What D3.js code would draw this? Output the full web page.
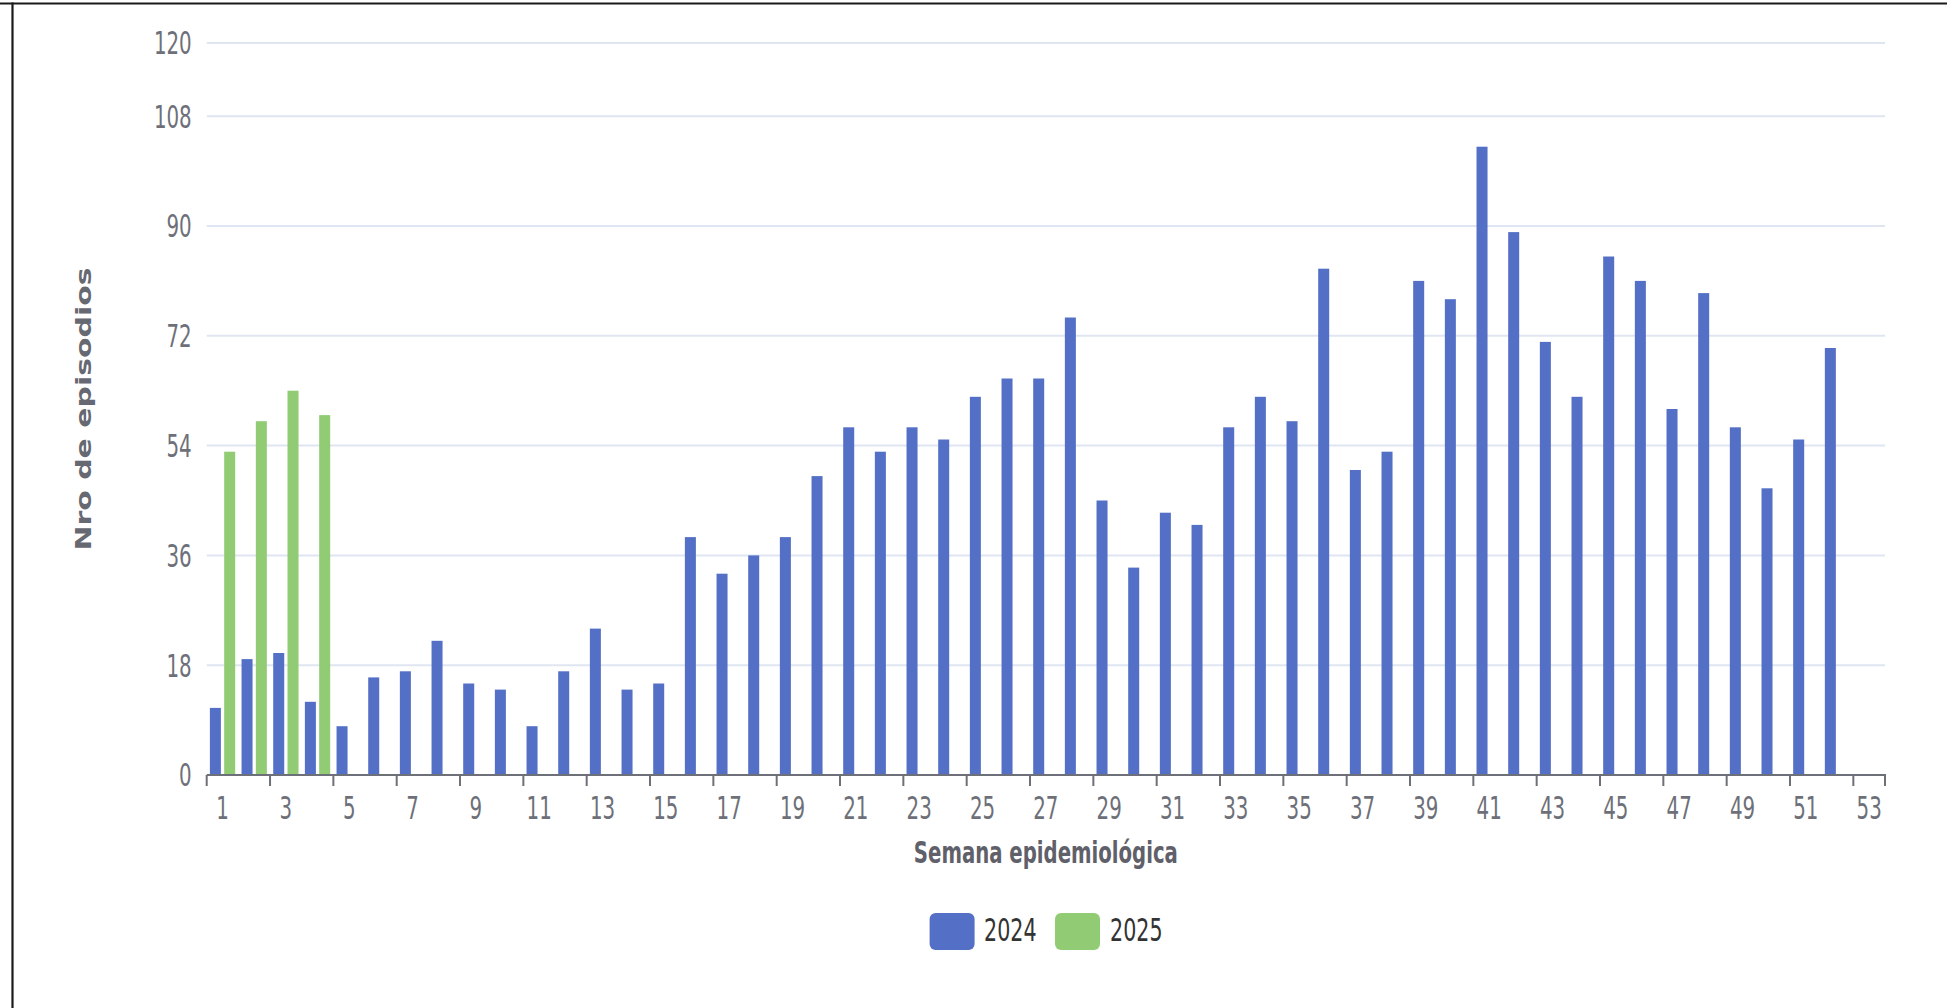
<!DOCTYPE html>
<html>
<head>
<meta charset="utf-8">
<script src="https://cdn.jsdelivr.net/npm/d3@7/dist/d3.min.js"></script>
<style>
  html, body { margin: 0; padding: 0; background: #ffffff; }
  svg { display: block; }
</style>
</head>
<body>
<svg id="chart" width="1947" height="1008"></svg>
<script>
// ---- data ----
const weeks = [1,2,3,4,5,6,7,8,9,10,11,12,13,14,15,16,17,18,19,20,21,22,23,24,25,26,27,28,29,30,31,32,33,34,35,36,37,38,39,40,41,42,43,44,45,46,47,48,49,50,51,52,53];
const seriesNames = ["2024", "2025"];
const values2024 = [11,19,20,12,8,16,17,22,15,14,8,17,24,14,15,39,33,36,39,49,57,53,57,55,62,65,65,75,45,34,43,41,57,62,58,83,50,53,81,78,103,89,71,62,85,81,60,79,57,47,55,70,null];
const values2025 = [53,58,63,59];
const yTickValues = [0,18,36,54,72,90,108,120];
const xTickLabels = [1,3,5,7,9,11,13,15,17,19,21,23,25,27,29,31,33,35,37,39,41,43,45,47,49,51,53];
const colors = {"2024": "#5470C6", "2025": "#91CC75"};
const yTitle = "Nro de episodios";
const xTitle = "Semana epidemiológica";

(function () {
// ---- layout ----
const svg = d3.select("#chart");
const pLeft = 206.7, pRight = 1885, pTop = 43, pBottom = 775;
const narrow = "'Liberation Sans Narrow', 'DejaVu Sans Condensed', 'Roboto', sans-serif";
const digitW = 12.6;

const x = d3.scaleBand().domain(weeks).range([pLeft, pRight]).paddingInner(0).paddingOuter(0);
const xs = d3.scaleBand().domain(seriesNames).range([0, x.bandwidth()]).paddingInner(0.23).paddingOuter(0.222);
const y = d3.scaleLinear().domain([0, 120]).range([pBottom, pTop]);

// frame lines
svg.append("line").attr("x1", 0).attr("x2", 1947).attr("y1", 3.5).attr("y2", 3.5)
  .attr("stroke", "#1a1a1a").attr("stroke-width", 2.2);
svg.append("line").attr("x1", 12.5).attr("x2", 12.5).attr("y1", 2.5).attr("y2", 1008)
  .attr("stroke", "#1a1a1a").attr("stroke-width", 2.2);

// gridlines
svg.append("g").selectAll("line").data(yTickValues.filter(d => d > 0)).join("line")
  .attr("x1", pLeft).attr("x2", pRight)
  .attr("y1", d => y(d)).attr("y2", d => y(d))
  .attr("stroke", "#E0E6F1").attr("stroke-width", 2);

// y axis labels
const yAxis = svg.append("g").attr("transform", `translate(${pLeft},0)`)
  .call(d3.axisLeft(y).tickValues(yTickValues).tickSize(0).tickPadding(15));
yAxis.select(".domain").remove();
yAxis.selectAll("text")
  .attr("font-family", narrow).attr("font-size", 32).attr("fill", "#6E7079")
  .attr("dy", "0.34em")
  .attr("textLength", d => String(d).length * digitW).attr("lengthAdjust", "spacingAndGlyphs");

// bars
const barData = [];
weeks.forEach((w, i) => {
  if (values2024[i] != null) barData.push({week: w, series: "2024", value: values2024[i]});
  if (i < values2025.length && values2025[i] != null) barData.push({week: w, series: "2025", value: values2025[i]});
});
svg.append("g").selectAll("rect").data(barData).join("rect")
  .attr("x", d => x(d.week) + xs(d.series))
  .attr("width", xs.bandwidth())
  .attr("y", d => y(d.value))
  .attr("height", d => y(0) - y(d.value))
  .attr("fill", d => colors[d.series]);

// x axis
const xAxis = svg.append("g").attr("transform", `translate(0,${pBottom})`)
  .call(d3.axisBottom(x).tickValues(xTickLabels).tickSize(0).tickPadding(21));
xAxis.select(".domain").remove();
xAxis.selectAll("text")
  .attr("font-family", narrow).attr("font-size", 32).attr("fill", "#6E7079")
  .attr("dy", "0.71em")
  .attr("textLength", d => String(d).length * digitW).attr("lengthAdjust", "spacingAndGlyphs");
// tick marks at band boundaries
const tickPos = xTickLabels.map(w => x(w)).concat([pRight]);
svg.append("g").selectAll("line").data(tickPos).join("line")
  .attr("x1", d => d).attr("x2", d => d)
  .attr("y1", pBottom).attr("y2", pBottom + 11)
  .attr("stroke", "#6E7079").attr("stroke-width", 2);
svg.append("line").attr("x1", pLeft).attr("x2", pRight + 1).attr("y1", pBottom).attr("y2", pBottom)
  .attr("stroke", "#6E7079").attr("stroke-width", 2.2);

// axis titles
svg.append("text")
  .attr("x", (pLeft + pRight) / 2).attr("y", 863)
  .attr("text-anchor", "middle")
  .attr("font-family", narrow).attr("font-weight", "bold").attr("font-size", 30)
  .attr("fill", "#5f6069")
  .attr("textLength", 264).attr("lengthAdjust", "spacingAndGlyphs")
  .text(xTitle);

svg.append("text")
  .attr("transform", `translate(91,${(pTop + pBottom) / 2}) rotate(-90)`)
  .attr("text-anchor", "middle")
  .attr("font-family", "'DejaVu Sans', sans-serif").attr("font-weight", "bold").attr("font-size", 21)
  .attr("fill", "#666872")
  .attr("textLength", 283).attr("lengthAdjust", "spacingAndGlyphs")
  .text(yTitle);

// legend
const legendItems = [
  {name: "2024", rx: 929.6, tx: 984},
  {name: "2025", rx: 1055, tx: 1110}
];
const lg = svg.append("g");
lg.selectAll("rect").data(legendItems).join("rect")
  .attr("x", d => d.rx).attr("y", 913).attr("width", 45).attr("height", 37)
  .attr("rx", 6).attr("ry", 6)
  .attr("fill", d => colors[d.name]);
lg.selectAll("text").data(legendItems).join("text")
  .attr("x", d => d.tx).attr("y", 941)
  .attr("font-family", narrow).attr("font-size", 32).attr("fill", "#333333")
  .attr("textLength", 52.5).attr("lengthAdjust", "spacingAndGlyphs")
  .text(d => d.name);
})();
</script>
</body>
</html>
